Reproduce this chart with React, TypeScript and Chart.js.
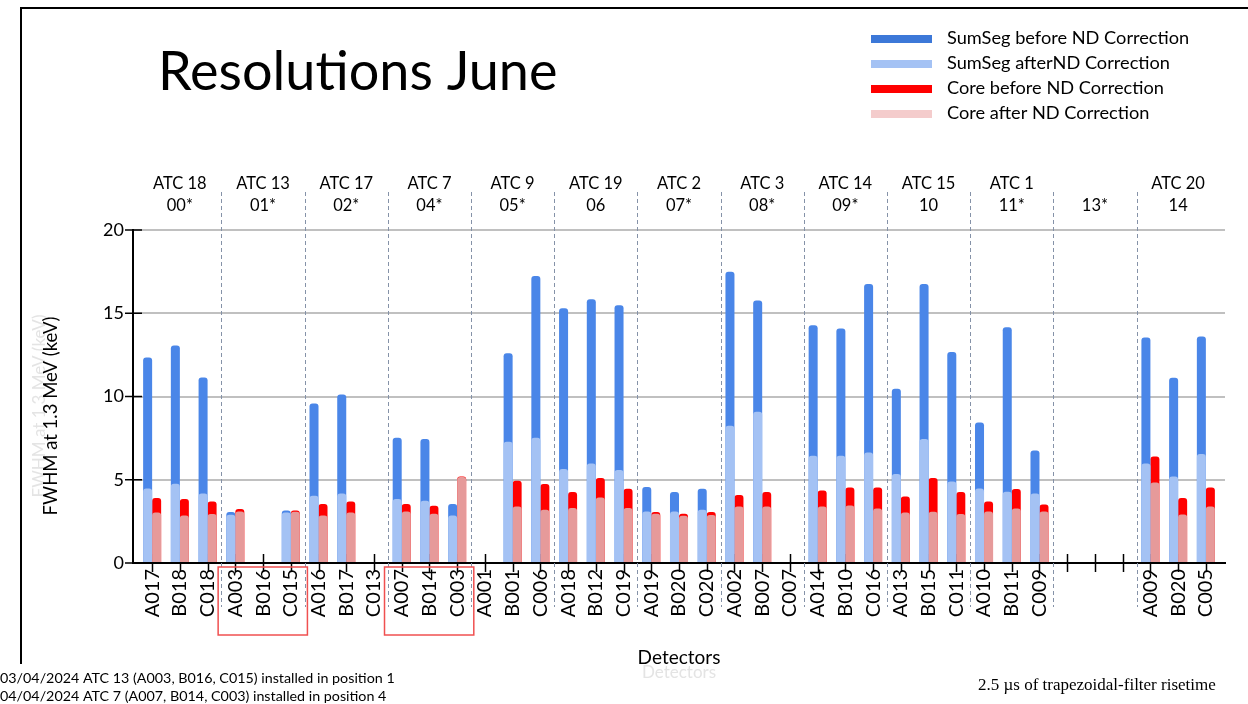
import React, { useEffect, useRef } from "react";
import { Chart, registerables } from "chart.js";

Chart.register(...registerables);

const detectors = [
  "A017", "B018", "C018", "A003", "B016", "C015", "A016", "B017", "C013",
  "A007", "B014", "C003", "A001", "B001", "C006", "A018", "B012", "C019",
  "A019", "B020", "C020", "A002", "B007", "C007", "A014", "B010", "C016",
  "A013", "B015", "C011", "A010", "B011", "C009", "", "", "", "A009", "B020", "C005",
];

const sumSegBefore = [
  12.34, 13.06, 11.14, 3.06, null, 3.16, 9.58, 10.12, null,
  7.52, 7.44, 3.54, null, 12.6, 17.24, 15.3, 15.84, 15.48,
  4.56, 4.26, 4.46, 17.5, 15.76, null, 14.28, 14.08, 16.76,
  10.46, 16.76, 12.68, 8.44, 14.16, 6.76, null, null, null, 13.54, 11.12, 13.6,
];
const sumSegAfter = [
  4.48, 4.76, 4.18, 2.9, null, 3.04, 4.04, 4.18, null,
  3.84, 3.74, 2.86, null, 7.28, 7.52, 5.64, 5.98, 5.58,
  3.1, 3.1, 3.2, 8.24, 9.08, null, 6.44, 6.44, 6.64,
  5.34, 7.44, 4.9, 4.48, 4.28, 4.18, null, null, null, 5.98, 5.2, 6.54,
];
const coreBefore = [
  3.9, 3.84, 3.7, 3.24, null, 3.16, 3.54, 3.7, null,
  3.54, 3.44, 5.2, null, 4.94, 4.74, 4.26, 5.1, 4.46,
  3.06, 2.96, 3.06, 4.08, 4.26, null, 4.36, 4.54, 4.54,
  4.0, 5.1, 4.26, 3.7, 4.44, 3.52, null, null, null, 6.4, 3.9, 4.54,
];
const coreAfter = [
  3.04, 2.86, 2.94, 3.1, null, 3.08, 2.86, 3.04, null,
  3.1, 2.96, 5.16, null, 3.4, 3.2, 3.3, 3.94, 3.3,
  2.96, 2.84, 2.88, 3.4, 3.4, null, 3.4, 3.46, 3.28,
  3.04, 3.08, 2.94, 3.1, 3.28, 3.1, null, null, null, 4.84, 2.92, 3.4,
];

const groupAtc = ["ATC 18", "ATC 13", "ATC 17", "ATC 7", "ATC 9", "ATC 19", "ATC 2", "ATC 3", "ATC 14", "ATC 15", "ATC 1", "", "ATC 20"];
const groupPos = ["00*", "01*", "02*", "04*", "05*", "06", "07*", "08*", "09*", "10", "11*", "13*", "14"];
const highlightedGroups = [1, 3];

const yTickValues = [0, 5, 10, 15, 20];

const seriesLabels = [
  "SumSeg before ND Correction",
  "SumSeg afterND Correction",
  "Core before ND Correction",
  "Core after ND Correction",
];
const barColors = ["#4a86e8", "#a4c2f4", "#ff0000", "#e69a9a"];
const legendColors = ["#3c78d8", "#a4c2f4", "#ff0000", "#f4cccc"];

const titleText = "Resolutions June";
const yTitle = "FWHM at 1.3 MeV (keV)";
const xTitle = "Detectors";
const footnotes = [
  "03/04/2024 ATC 13 (A003, B016, C015) installed in position 1",
  "04/04/2024 ATC 7 (A007, B014, C003) installed in position 4",
];
const sideNote = "2.5 µs of trapezoidal-filter risetime";

const toPoints = (arr: (number | null)[]) => arr.map((v, i) => ({ x: i, y: v }));

const overlayPlugin = {
  id: "overlay",
  beforeDatasetsDraw(chart: any) {
    const { ctx } = chart;
    const xs = chart.scales.x;
    const ys = chart.scales.y;
    ctx.save();
    ctx.strokeStyle = "#000";
    ctx.lineWidth = 1.5;
    detectors.forEach((_, i) => {
      const px = Math.round(xs.getPixelForValue(i)) + 0.5;
      ctx.beginPath();
      ctx.moveTo(px, ys.bottom - 9);
      ctx.lineTo(px, ys.bottom + 9);
      ctx.stroke();
    });
    yTickValues.forEach((v) => {
      const py = ys.getPixelForValue(v);
      ctx.beginPath();
      ctx.moveTo(chart.chartArea.left - 8, py);
      ctx.lineTo(chart.chartArea.left + 9, py);
      ctx.stroke();
    });
    ctx.setLineDash([4, 3]);
    ctx.strokeStyle = "#8592a8";
    ctx.lineWidth = 1;
    for (let g = 1; g < groupPos.length; g++) {
      const px = Math.round(xs.getPixelForValue(g * 3 - 0.5)) + 0.5;
      ctx.beginPath();
      ctx.moveTo(px, 192);
      ctx.lineTo(px, 607);
      ctx.stroke();
    }
    ctx.restore();
  },
  afterDraw(chart: any) {
    const { ctx } = chart;
    const xs = chart.scales.x;
    ctx.save();
    // frame
    ctx.strokeStyle = "#000";
    ctx.lineWidth = 2;
    ctx.beginPath();
    ctx.moveTo(21, 664);
    ctx.lineTo(21, 8);
    ctx.lineTo(1248, 8);
    ctx.stroke();
    // title
    ctx.fillStyle = "#000";
    ctx.font = "54px Lato";
    ctx.textAlign = "left";
    ctx.textBaseline = "alphabetic";
    ctx.fillText(titleText, 158, 90);
    // group headers
    ctx.font = "16.5px Lato";
    ctx.textAlign = "center";
    ctx.textBaseline = "middle";
    groupPos.forEach((p, g) => {
      const cx = xs.getPixelForValue(g * 3 + 1);
      if (groupAtc[g]) ctx.fillText(groupAtc[g], cx, 184);
      ctx.fillText(p, cx, 206);
    });
    // highlight boxes
    ctx.strokeStyle = "#f05050";
    ctx.lineWidth = 1.5;
    highlightedGroups.forEach((g) => {
      const l = xs.getPixelForValue(g * 3 - 0.62);
      const r = xs.getPixelForValue(g * 3 + 2.6);
      ctx.strokeRect(l, 567, r - l, 68);
    });
    // legend
    ctx.textAlign = "left";
    ctx.font = "18.2px Lato";
    seriesLabels.forEach((label, i) => {
      const cy = 39 + i * 25;
      ctx.fillStyle = legendColors[i];
      ctx.fillRect(871, cy - 4, 61, 8);
      ctx.fillStyle = "#000";
      ctx.fillText(label, 947, cy - 1);
    });
    // ghost copies (faint echoes seen in the source slide)
    ctx.fillStyle = "#e4e4e4";
    ctx.save();
    ctx.translate(40, 406);
    ctx.rotate(-Math.PI / 2);
    ctx.textAlign = "center";
    ctx.font = "17px Lato";
    ctx.fillText(yTitle, 0, 0);
    ctx.restore();
    ctx.textAlign = "center";
    ctx.font = "17px Lato";
    ctx.fillText(xTitle, 679, 673);
    // y title
    ctx.fillStyle = "#000";
    ctx.save();
    ctx.translate(51, 416);
    ctx.rotate(-Math.PI / 2);
    ctx.textAlign = "center";
    ctx.font = "18.5px Lato";
    ctx.fillText(yTitle, 0, 0);
    ctx.restore();
    // footnotes
    ctx.font = "14.3px Lato";
    ctx.textAlign = "left";
    ctx.fillText(footnotes[0], 0, 678);
    ctx.fillText(footnotes[1], 0, 696);
    ctx.font = "17px 'Liberation Serif'";
    ctx.fillText(sideNote, 978, 686);
    ctx.restore();
  },
};

export default function App() {
  const ref = useRef<HTMLCanvasElement>(null);
  useEffect(() => {
    if (!ref.current) return;
    const top = { topLeft: 3, topRight: 3, bottomLeft: 0, bottomRight: 0 };
    const chart = new Chart(ref.current, {
      type: "bar",
      data: {
        datasets: [
          { label: seriesLabels[0], data: toPoints(sumSegBefore), backgroundColor: barColors[0], stack: "sumseg", order: 2, borderRadius: top },
          { label: seriesLabels[1], data: toPoints(sumSegAfter), backgroundColor: barColors[1], stack: "sumseg", order: 1, borderRadius: top },
          { label: seriesLabels[2], data: toPoints(coreBefore), backgroundColor: barColors[2], stack: "core", order: 2, borderRadius: top },
          { label: seriesLabels[3], data: toPoints(coreAfter), backgroundColor: barColors[3], stack: "core", order: 1, borderRadius: top },
        ] as any,
      },
      options: {
        responsive: false,
        animation: false,
        devicePixelRatio: 1,
        categoryPercentage: 0.65,
        barPercentage: 1,
        layout: { padding: { top: 230, left: 0, right: 23, bottom: 0 } },
        plugins: { legend: { display: false }, tooltip: { enabled: false } },
        scales: {
          x: {
            type: "linear",
            offset: false,
            min: -0.69,
            max: 38.69,
            afterBuildTicks: (scale: any) => {
              scale.ticks = detectors.map((_, i) => ({ value: i }));
            },
            afterFit: (scale: any) => {
              scale.height = 141;
              scale.paddingLeft = 0;
              scale.paddingRight = 0;
            },
            grid: { display: false, drawTicks: false, offset: false },
            border: { display: true, color: "#000", width: 2 },
            ticks: {
              autoSkip: false,
              minRotation: 90,
              maxRotation: 90,
              padding: 6,
              color: "#000",
              font: { family: "Lato", size: 20 },
              callback: (v: any) => detectors[v] ?? "",
            },
            title: {
              display: true,
              text: xTitle,
              color: "#000",
              font: { family: "Lato", size: 19 },
              padding: { top: 0, bottom: 35 },
            },
          },
          y: {
            min: 0,
            max: 20,
            stacked: false,
            afterFit: (scale: any) => {
              scale.width = 133;
            },
            grid: { color: "#c0c0c0", lineWidth: 2, drawTicks: false },
            border: { display: true, color: "#000", width: 2 },
            ticks: {
              stepSize: 5,
              padding: 9,
              color: "#000",
              font: { family: "Lato", size: 18 },
            },
          },
        },
      } as any,
      plugins: [overlayPlugin],
    });
    return () => chart.destroy();
  }, []);

  return (
    <div style={{ position: "absolute", left: 0, top: 0, width: 1248, height: 704, background: "#fff" }}>
      <canvas ref={ref} width={1248} height={704} style={{ display: "block", width: 1248, height: 704 }} />
    </div>
  );
}
